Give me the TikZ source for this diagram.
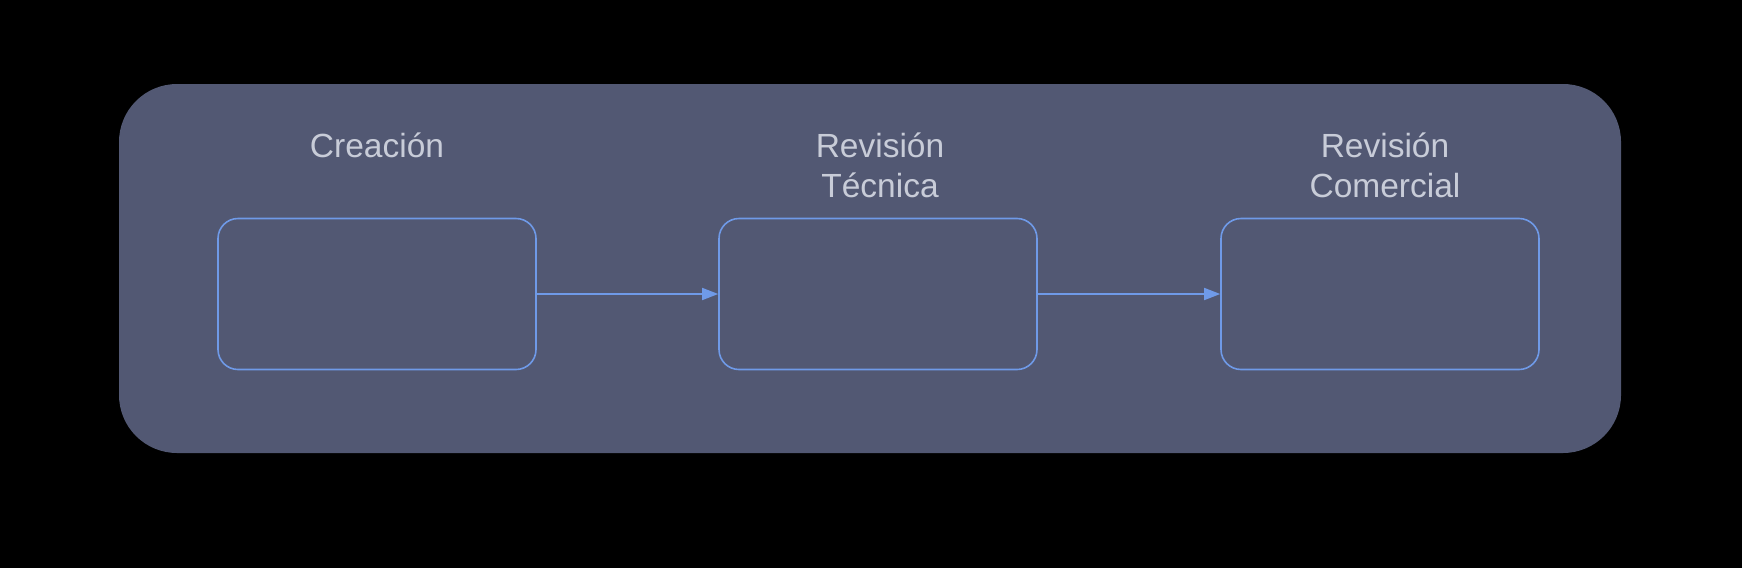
\documentclass[tikz,border=0pt]{standalone}
\usepackage{fontspec}
\setmainfont{Liberation Sans}
\usetikzlibrary{arrows.meta}
\definecolor{bgpanel}{HTML}{525873}
\definecolor{stroke}{HTML}{6F9AE8}
\definecolor{labeltxt}{HTML}{C8CCD8}
\tikzset{
  stepbox/.style={draw=stroke, line width=1.6pt, rounded corners=20pt},
  lbl/.style={text=labeltxt, font=\fontsize{33.5}{40}\selectfont, align=center, anchor=base, inner sep=0pt},
  conn/.style={draw=stroke, line width=1.6pt, -{Triangle[length=16pt,width=12pt]}}
}
\begin{document}
\begin{tikzpicture}[x=1pt,y=-1pt]
\useasboundingbox[fill=black] (0,0) rectangle (1742,568);
\fill[bgpanel, rounded corners=58pt] (119,84) rectangle (1621,453);
\node[stepbox, minimum width=318pt, minimum height=151pt] (a) at (377,294) {};
\node[stepbox, minimum width=318pt, minimum height=151pt] (b) at (878,294) {};
\node[stepbox, minimum width=318pt, minimum height=151pt] (c) at (1380,294) {};
\node[lbl] (la) at (377,157) {Creación};
\node[lbl] (lb) at (880,197) {Revisión\\Técnica};
\node[lbl] (lc) at (1385,197) {Revisión\\Comercial};
\draw[conn] (a.east) -- (b.west);
\draw[conn] (b.east) -- (c.west);
\end{tikzpicture}
\end{document}
